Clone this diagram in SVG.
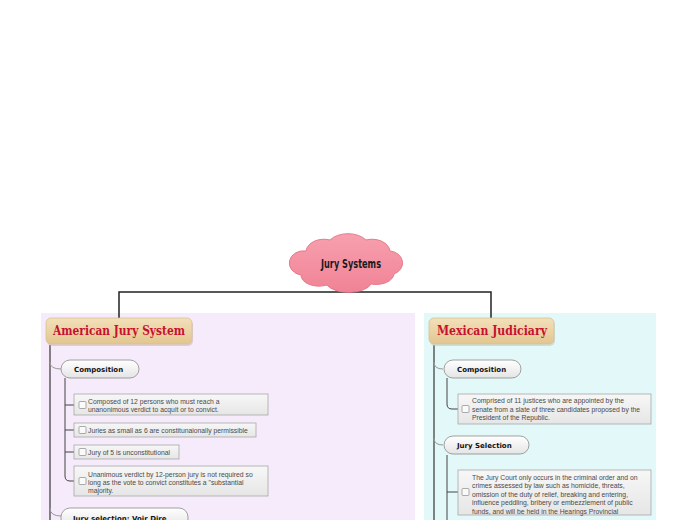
<svg xmlns="http://www.w3.org/2000/svg" width="696" height="520" viewBox="0 0 696 520">
<style>
.topic{font-family:"DejaVu Serif","Liberation Serif",serif;font-weight:bold;font-size:13px;fill:#c8102e}
.pill{fill:url(#pillg);stroke:#8a8a8a;stroke-width:0.8}
.pt{font-family:"DejaVu Sans","Liberation Sans",sans-serif;font-weight:bold;font-size:7px;fill:#111}
.box{fill:url(#boxg);stroke:#a8a8a8;stroke-width:0.8}
.bt{font-family:"Liberation Sans","Arial",sans-serif;font-size:6.8px;fill:#4a4a4a}
.cb{fill:#fafafa;stroke:#8a8a8a;stroke-width:0.7}
.main{fill:none;stroke:#222;stroke-width:1.5}
.trunk{fill:none;stroke:#444;stroke-width:1.3}
.br{fill:none;stroke:#999;stroke-width:1}
.sub{fill:none;stroke:#444;stroke-width:1}
</style>
<defs>
<linearGradient id="pillg" x1="0" y1="0" x2="0" y2="1"><stop offset="0" stop-color="#ffffff"/><stop offset="1" stop-color="#e4e4e4"/></linearGradient>
<linearGradient id="boxg" x1="0" y1="0" x2="0" y2="1"><stop offset="0" stop-color="#f7f7f7"/><stop offset="1" stop-color="#e6e6e6"/></linearGradient>
<linearGradient id="topg" x1="0" y1="0" x2="0" y2="1"><stop offset="0" stop-color="#f3e0ba"/><stop offset="1" stop-color="#e2c690"/></linearGradient>
<linearGradient id="cloudg" x1="0" y1="0" x2="0" y2="1"><stop offset="0" stop-color="#f7a0ae"/><stop offset="1" stop-color="#f08396"/></linearGradient>
</defs>
<rect width="696" height="520" fill="#ffffff"/>
<!-- panels -->
<rect x="41" y="313" width="374" height="207" fill="#f5ebfa"/>
<rect x="424" y="313" width="232" height="207" fill="#e3f8f8"/>

<g id="connectors">
<path class="main" d="M348 287 V292 M119 292 H491 M119 291.3 V318 M491 291.3 V318"/>
<path class="trunk" d="M50 345 V520"/>
<path class="br" d="M50 362 Q50 369 61 369"/>
<path class="br" d="M50 508 Q50 516 61 516"/>
<path class="sub" d="M65 378 V476 Q65 481 70 481 H74 M65 405 H74 M65 430 H74 M65 452 H74"/>
<path class="trunk" d="M434 345 V520"/>
<path class="br" d="M434 362 Q434 369 443 369"/>
<path class="br" d="M434 438 Q434 445 443 445"/>
<path class="sub" d="M447 378 V404 Q447 409 452 409 H458"/>
<path class="sub" d="M447 455 V520 M447 492 H458"/>
</g>

<g id="central">
<path d="M306 251 A18 13 0 0 1 330 240 A21 13 0 0 1 366 240 A18 13 0 0 1 390 251 A14 12 0 0 1 394 274 A18 11 0 0 1 371 284 A23 11 0 0 1 327 285 A18 11 0 0 1 301 275 A14 12 0 0 1 306 251 Z" fill="url(#cloudg)" stroke="#e57a8c" stroke-width="1"/>
<text x="321" y="268" textLength="60" lengthAdjust="spacingAndGlyphs" font-family="DejaVu Sans" font-stretch="condensed" font-weight="bold" font-size="12" fill="#1a1a1a">Jury Systems</text>
</g>

<g id="american">
<rect x="47" y="320" width="146" height="26" rx="5" fill="#c9b8c8" opacity="0.6"/>
<rect x="46" y="318" width="146" height="26" rx="5" fill="url(#topg)" stroke="#d9c08f" stroke-width="0.8"/>
<text class="topic" x="53" y="335" textLength="132" lengthAdjust="spacingAndGlyphs">American Jury System</text>
</g>

<g id="mexican">
<rect x="430" y="320" width="125" height="26" rx="5" fill="#b8cfcf" opacity="0.6"/>
<rect x="429" y="318" width="125" height="26" rx="5" fill="url(#topg)" stroke="#d9c08f" stroke-width="0.8"/>
<text class="topic" x="437" y="335" textLength="110" lengthAdjust="spacingAndGlyphs">Mexican Judiciary</text>
</g>

<g id="am-composition">
<rect class="pill" x="61" y="360" width="78" height="18" rx="9"/>
<text class="pt" x="74" y="372">Composition</text>
</g>

<g id="am-c1">
<rect class="box" x="74" y="394" width="194" height="21"/>
<rect class="cb" x="79" y="401.5" width="7" height="7" rx="1"/>
<text class="bt" x="88" y="404">Composed of 12 persons who must reach a</text>
<text class="bt" x="88" y="412">unanonimous verdict to acquit or to convict.</text>
</g>

<g id="am-c2">
<rect class="box" x="74" y="423" width="182" height="14"/>
<rect class="cb" x="79" y="426.5" width="7" height="7" rx="1"/>
<text class="bt" x="88" y="432.5">Juries as small as 6 are constitunaionally permissible</text>
</g>

<g id="am-c3">
<rect class="box" x="74" y="445" width="105" height="14"/>
<rect class="cb" x="79" y="448.5" width="7" height="7" rx="1"/>
<text class="bt" x="88" y="454.5">Jury of 5 is unconstitutional</text>
</g>

<g id="am-c4">
<rect class="box" x="74" y="466" width="194" height="30"/>
<rect class="cb" x="79" y="477.5" width="7" height="7" rx="1"/>
<text class="bt" x="88" y="476.5">Unanimous verdict by 12-person jury is not required so</text>
<text class="bt" x="88" y="484.5">long  as the vote to convict constitutes a "substantial</text>
<text class="bt" x="88" y="492.5">majority.</text>
</g>

<g id="am-voirdire">
<rect class="pill" x="61" y="508" width="127" height="20" rx="9"/>
<text class="pt" x="73" y="520.5">Jury selection: Voir Dire</text>
</g>

<g id="mx-composition">
<rect class="pill" x="444" y="360" width="77" height="18" rx="9"/>
<text class="pt" x="457" y="372">Composition</text>
</g>

<g id="mx-c1">
<rect class="box" x="458" y="394" width="193" height="30"/>
<rect class="cb" x="462" y="405.5" width="7" height="7" rx="1"/>
<text class="bt" x="472" y="403">Comprised of 11 justices who are appointed by the</text>
<text class="bt" x="472" y="411.5">senate from a slate of three candidates proposed by the</text>
<text class="bt" x="472" y="420">President of the Republic.</text>
</g>

<g id="mx-juryselection">
<rect class="pill" x="444" y="436" width="85" height="18" rx="9"/>
<text class="pt" x="457" y="448">Jury Selection</text>
</g>

<g id="mx-j1">
<rect class="box" x="458" y="470" width="193" height="45"/>
<rect class="cb" x="462" y="488.5" width="7" height="7" rx="1"/>
<text class="bt" x="472" y="479.5">The Jury Court only occurs in the criminal order and on</text>
<text class="bt" x="472" y="488">crimes assessed by law such as homicide, threats,</text>
<text class="bt" x="472" y="496.5">omission of the duty of relief, breaking and entering,</text>
<text class="bt" x="472" y="505">influence peddling, bribery or embezzlement of public</text>
<text class="bt" x="472" y="513.5">funds, and will be held in the Hearings Provincial</text>
</g>
</svg>
